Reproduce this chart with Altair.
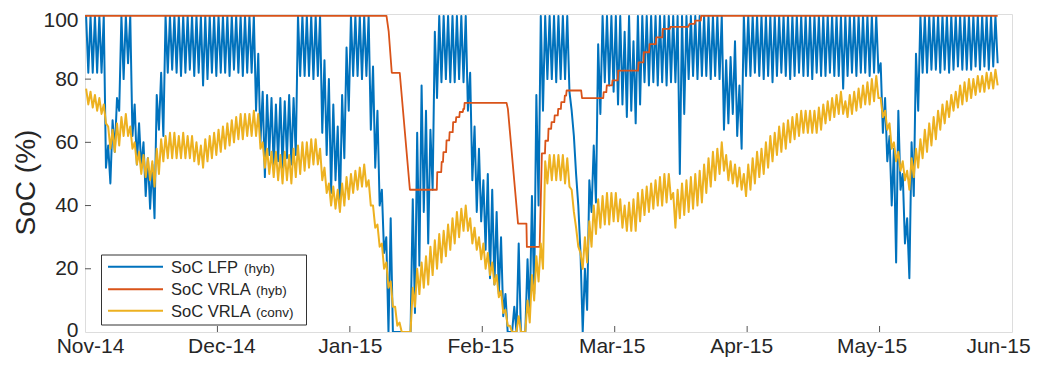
import json
import altair as alt
import pandas as pd

FONT = "Liberation Sans"
TXT = "#262626"

MONTHS = ["Nov-14", "Dec-14", "Jan-15", "Feb-15", "Mar-15", "Apr-15", "May-15", "Jun-15"]
MONTH_TICKS = [0, 30, 60, 90, 120, 150, 180, 210]
Y_TICKS = [0, 20, 40, 60, 80, 100]

# SoC LFP (hyb): daily peak and daily trough, one value per day
BLUE_HI = [100, 100, 100, 100, 100, 59, 67, 74, 100, 100,
           100, 72, 66, 60, 55, 53, 75, 82, 100, 100,
           100, 100, 100, 100, 100, 100, 100, 100, 100, 100,
           100, 100, 100, 100, 100, 100, 100, 100, 100, 88,
           76, 75, 74, 72, 74, 73, 75, 74, 100, 100,
           100, 100, 100, 100, 86, 80, 72, 65, 75, 90,
           100, 100, 100, 100, 100, 84, 70, 45, 30, 36,
           0, 0, 0, 0, 42, 63, 78, 70, 64, 95,
           100, 100, 100, 100, 100, 100, 100, 82, 65, 58,
           48, 50, 45, 38, 30, 12, 0, 8, 28, 0,
           23, 43, 75, 100, 100, 100, 100, 100, 100, 100,
           70, 50, 25, 20, 48, 59, 91, 100, 100, 100,
           100, 100, 95, 100, 92, 100, 100, 100, 100, 100,
           100, 100, 100, 100, 100, 100, 100, 100, 100, 100,
           100, 100, 100, 100, 100, 86, 87, 92, 78, 100,
           100, 100, 100, 100, 100, 100, 100, 100, 100, 100,
           100, 100, 100, 100, 100, 100, 100, 100, 100, 100,
           100, 100, 100, 100, 100, 100, 100, 100, 100, 100,
           85, 74, 62, 58, 70, 50, 36, 60, 88, 100,
           100, 100, 100, 100, 100, 100, 100, 100, 100, 100,
           100, 100, 100, 100, 100, 100, 100]
BLUE_LO = [82, 82, 82, 82, 52, 47, 57, 70, 80, 85,
           62, 53, 52, 43, 39, 36, 64, 62, 82, 83,
           82, 81, 82, 83, 81, 82, 78, 80, 82, 81,
           82, 82, 81, 83, 82, 81, 82, 82, 70, 60,
           49, 56, 52, 54, 52, 55, 53, 56, 81, 81,
           81, 80, 81, 63, 56, 44, 48, 39, 55, 70,
           81, 81, 80, 81, 64, 52, 40, 25, 0, 0,
           0, 0, 0, 0, 6, 21, 38, 28, 45, 74,
           79, 80, 79, 79, 80, 79, 70, 48, 38, 35,
           26, 17, 15, 12, 5, 0, 0, 0, 0, 0,
           5, 12, 40, 70, 80, 80, 79, 80, 80, 76,
           62, 40, 0, 7, 38, 41, 69, 79, 78, 76,
           72, 72, 68, 70, 66, 72, 79, 78, 79, 78,
           79, 78, 79, 79, 50, 69, 80, 81, 80, 81,
           81, 80, 81, 80, 64, 66, 69, 62, 58, 81,
           81, 82, 81, 80, 81, 79, 81, 82, 81, 80,
           81, 82, 81, 81, 80, 82, 81, 81, 82, 81,
           81, 77, 81, 82, 81, 82, 82, 81, 82, 82,
           63, 54, 40, 22, 45, 28, 17, 43, 70, 82,
           82, 83, 83, 82, 83, 82, 83, 84, 83, 83,
           83, 84, 83, 84, 83, 84, 85]

# SoC VRLA (conv): daily peak and daily trough
YEL_HI = [77, 76, 75, 74, 72, 65, 64, 66, 68, 69,
          65, 60, 57, 56, 55, 54, 58, 61, 62, 63,
          63, 62, 63, 62, 62, 60, 59, 61, 62, 63,
          64, 65, 66, 67, 68, 69, 69, 69, 70, 69,
          60, 58, 57, 57, 56, 57, 56, 58, 59, 60,
          60, 61, 61, 58, 52, 47, 46, 45, 47, 49,
          50, 51, 52, 53, 48, 40, 34, 28, 22, 16,
          8, 3, 0, 0, 14, 20, 22, 24, 27, 29,
          31, 32, 34, 36, 38, 39, 40, 36, 33, 30,
          28, 25, 22, 18, 13, 7, 2, 0, 5, 0,
          10, 18, 24, 28, 54, 56, 56, 56, 56, 55,
          45, 33, 25, 30, 35, 40, 42, 43, 44, 44,
          44, 42, 40, 41, 42, 44, 45, 46, 47, 48,
          49, 50, 50, 44, 45, 47, 48, 49, 50, 51,
          53, 55, 57, 58, 60, 56, 54, 53, 52, 50,
          53, 55, 57, 58, 60, 62, 63, 65, 66, 67,
          68, 69, 70, 70, 70, 70, 71, 72, 73, 74,
          75, 76, 73, 75, 76, 77, 78, 79, 80, 81,
          74, 70, 66, 60, 57, 54, 51, 55, 58, 61,
          64, 66, 68, 70, 72, 73, 75, 76, 78, 79,
          80, 80, 81, 81, 82, 82, 83]
YEL_LO = [72, 71, 70, 69, 66, 58, 57, 59, 62, 62,
          58, 53, 50, 49, 48, 46, 50, 54, 55, 55,
          55, 55, 55, 55, 54, 53, 52, 54, 55, 56,
          57, 58, 59, 60, 61, 61, 62, 62, 62, 58,
          52, 50, 49, 48, 47, 48, 47, 49, 50, 51,
          52, 53, 53, 48, 44, 40, 39, 38, 40, 42,
          44, 45, 46, 46, 40, 33, 27, 20, 14, 8,
          2, 0, 0, 0, 8, 12, 14, 15, 18, 20,
          22, 24, 26, 28, 30, 32, 32, 28, 26, 23,
          20, 18, 15, 11, 6, 2, 0, 0, 0, 0,
          3, 10, 16, 20, 47, 48, 48, 48, 47, 46,
          38, 27, 20, 22, 27, 31, 33, 34, 34, 35,
          35, 33, 32, 32, 32, 35, 37, 38, 39, 40,
          40, 41, 42, 33, 36, 37, 38, 39, 40, 41,
          44, 46, 48, 50, 51, 48, 47, 46, 45, 43,
          45, 47, 49, 50, 52, 54, 56, 57, 58, 60,
          61, 62, 63, 63, 63, 63, 64, 66, 67, 68,
          69, 69, 68, 69, 70, 71, 72, 72, 73, 74,
          68, 64, 58, 54, 51, 48, 45, 49, 52, 55,
          57, 59, 61, 64, 66, 68, 70, 71, 72, 73,
          74, 75, 76, 76, 77, 77, 78]

# SoC VRLA (hyb): step-like curve, vertices (day, value)
ORANGE_T = [0, 68.3, 68.8, 69.5, 71.3, 73.6, 79.7, 79.8, 80.7, 80.8, 81.1, 81.2, 81.8, 81.9,
            82.5, 82.6, 83.3, 83.4, 84.0, 84.1, 84.8, 84.9, 85.6, 85.7, 85.9, 86.0, 95.5, 95.8,
            98.1, 100.0, 100.1, 103.0, 103.5, 104.2, 104.3, 104.9, 105.0, 105.6, 105.7, 106.3,
            106.4, 107.1, 107.2, 107.8, 107.9, 108.6, 108.7, 109.0, 109.1, 112.4, 112.6, 117.4,
            117.5, 118.1, 118.2, 119.4, 119.5, 120.7, 120.8, 125.3, 125.4, 126.5, 126.6, 127.8,
            127.9, 129.3, 129.4, 130.8, 130.9, 132.5, 132.6, 136.6, 137.0, 138.1, 138.2, 139.5,
            139.6, 206.75]
ORANGE_V = [100, 100, 95, 82, 82, 45, 45, 50.6, 50.6, 53.8, 53.8, 56.9, 56.9, 60.6,
            60.6, 63.2, 63.2, 66.4, 66.4, 68, 68, 69.6, 69.6, 70.6, 70.6, 72.5, 72.5, 70.6,
            34.3, 34.3, 26.9, 26.9, 56.5, 56.5, 60.5, 60.5, 64.3, 64.3, 66.4, 66.4,
            68.5, 68.5, 70.6, 70.6, 72.7, 72.7, 74.8, 74.8, 76.4, 76.4, 74.0, 74.0,
            75.9, 75.9, 78.0, 78.0, 79.6, 79.6, 82.7, 82.7, 85.3, 85.3, 88.5, 88.5,
            91.1, 91.1, 93.2, 93.2, 95.9, 95.9, 96.5, 96.5, 97.5, 97.5, 98.5, 98.5,
            100, 100]

LEGEND_MAIN = ["SoC LFP", "SoC VRLA", "SoC VRLA"]
LEGEND_SUB = ["(hyb)", "(hyb)", "(conv)"]
COLORS = ["#0072BD", "#D95319", "#EDB120"]

# small horizontal nudges of the month labels, as in the reference
MONTH_LABEL_NUDGE = [5, 4, 0, -2, -3, -6, -8, -14]


def daily(hi, lo):
    rows = []
    for d, (h, l) in enumerate(zip(hi, lo)):
        rows.append({"t": d + 0.25, "v": h})
        rows.append({"t": d + 0.75, "v": l})
    return pd.DataFrame(rows)


blue_df = daily(BLUE_HI, BLUE_LO)
yel_df = daily(YEL_HI, YEL_LO)
orange_df = pd.DataFrame({"t": ORANGE_T, "v": ORANGE_V})

label_expr = json.dumps(MONTHS) + "[round(datum.value / 30)]"
x_label_offset = {
    "condition": [{"test": f"datum.value == {t}", "value": o}
                  for t, o in zip(MONTH_TICKS, MONTH_LABEL_NUDGE)],
    "value": 0,
}
y_label_offset = {
    "condition": [{"test": "datum.value == 0", "value": -2},
                  {"test": "datum.value == 100", "value": 5}],
    "value": 0,
}

W, H = 927, 318

x_enc = alt.X("t:Q",
              scale=alt.Scale(domain=[0, 210], nice=False, zero=False),
              axis=alt.Axis(values=MONTH_TICKS, labelExpr=label_expr, title=None,
                            grid=False, ticks=False, domain=False, labelFlush=False,
                            labelOverlap=False, labelFont=FONT, labelFontSize=21,
                            labelColor=TXT, labelPadding=3.5, labelOffset=x_label_offset))
y_enc = alt.Y("v:Q",
              scale=alt.Scale(domain=[0, 100.6], nice=False),
              axis=alt.Axis(values=Y_TICKS, title="SoC (%)", grid=False, ticks=False,
                            domain=False, labelFont=FONT, labelFontSize=21, labelColor=TXT,
                            labelPadding=7, labelOverlap=False, labelOffset=y_label_offset,
                            titleFont=FONT, titleFontSize=28, titleFontWeight="normal",
                            titleColor=TXT, titlePadding=2, titleY=168))


def series(df, color, sw):
    return alt.Chart(df).mark_line(color=color, strokeWidth=sw, clip=True,
                                   strokeJoin="round").encode(x=x_enc, y=y_enc)


blue = series(blue_df, COLORS[0], 2.0)
orange = series(orange_df, COLORS[1], 1.8)
yellow = series(yel_df, COLORS[2], 2.0)

ytick_df = pd.DataFrame({"v": [20, 40, 60, 80]})
yticks = alt.Chart(ytick_df).mark_rule(color="#555555", strokeWidth=1).encode(
    y=y_enc, x=alt.value(0), x2=alt.value(6))
xtick_df = pd.DataFrame({"t": [30, 60, 90, 120, 150, 180]})
xticks = alt.Chart(xtick_df).mark_rule(color="#555555", strokeWidth=1).encode(
    x=x_enc, y=alt.value(H), y2=alt.value(H - 6))

one = pd.DataFrame({"k": [0]})
legend_layers = [
    alt.Chart(one).mark_rect(fill="white", stroke="#333333", strokeWidth=1).encode(
        x=alt.value(16.5), x2=alt.value(221.5), y=alt.value(241), y2=alt.value(311))
]
row_y = [252.7, 275.3, 296.7]
sub_x = [159, 171, 171]
for i in range(3):
    legend_layers.append(
        alt.Chart(one).mark_rule(color=COLORS[i], strokeWidth=2).encode(
            x=alt.value(23), x2=alt.value(78), y=alt.value(row_y[i])))
    legend_layers.append(
        alt.Chart(one).mark_text(align="left", baseline="alphabetic", font=FONT,
                                 fontSize=16.5, color=TXT).encode(
            x=alt.value(86), y=alt.value(row_y[i] + 6), text=alt.value(LEGEND_MAIN[i])))
    legend_layers.append(
        alt.Chart(one).mark_text(align="left", baseline="alphabetic", font=FONT,
                                 fontSize=13.5, color=TXT).encode(
            x=alt.value(sub_x[i]), y=alt.value(row_y[i] + 6), text=alt.value(LEGEND_SUB[i])))

chart = alt.layer(blue, orange, yellow, yticks, xticks, *legend_layers).properties(
    width=W, height=H,
    autosize=alt.AutoSizeParams(type="none"),
    padding={"left": 77, "top": 6, "right": 19, "bottom": 25},
).configure_view(stroke="#808080", strokeWidth=1.5).configure(background="white")

chart.save("out.html", embed_options={"renderer": "svg", "actions": False})
